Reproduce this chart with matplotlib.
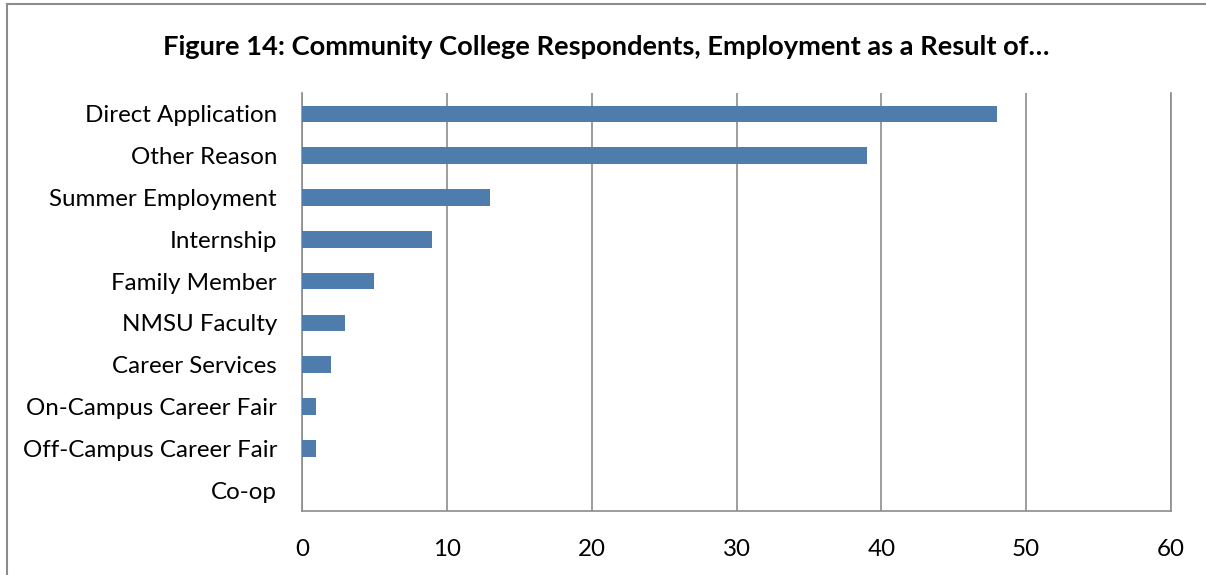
import numpy as np
import matplotlib.pyplot as plt
from matplotlib.lines import Line2D

# Data
categories = [
    "Direct Application", "Other Reason", "Summer Employment", "Internship",
    "Family Member", "NMSU Faculty", "Career Services",
    "On-Campus Career Fair", "Off-Campus Career Fair", "Co-op",
]
counts = [48, 39, 13, 9, 5, 3, 2, 1, 1, 0]
x_ticks = [0, 10, 20, 30, 40, 50, 60]

TITLE = "Figure 14: Community College Respondents, Employment as a Result of\u2026"
BAR_COLOR = "#4E7CAD"
GRID_COLOR = "#8C8C8C"

plt.rcParams['font.family'] = ['Lato', 'DejaVu Sans']

W, H = 1206, 575
fig = plt.figure(figsize=(W / 100, H / 100), dpi=100)

# plot area in pixel coords
left, right, top, bottom = 302, 1171, 93, 511
ax = fig.add_axes([left / W, 1 - bottom / H, (right - left) / W, (bottom - top) / H])

y = np.arange(len(categories))
ax.barh(y, counts, height=0.4, color=BAR_COLOR, zorder=3)
ax.set_ylim(len(categories) - 0.5, -0.5)
ax.set_xlim(0, 60)
ax.set_xticks(x_ticks)
ax.set_yticks(y)
ax.set_yticklabels(categories, fontsize=17.4)
ax.tick_params(axis='x', labelsize=17.4, length=0, pad=20)
ax.tick_params(axis='y', length=0, pad=18)
ax.xaxis.grid(True, color=GRID_COLOR, linewidth=1.2, zorder=0)
ax.spines["top"].set_visible(False)
for side in ("left", "bottom", "right"):
    ax.spines[side].set_color(GRID_COLOR)
    ax.spines[side].set_linewidth(1.2)

fig.text(606 / W, 1 - 47 / H, TITLE, ha='center', va='center',
         fontsize=19.6, fontweight='bold')

# chart frame (left and top edges visible)
fig.add_artist(Line2D([7 / W, 7 / W], [0, 1 - 4 / H], transform=fig.transFigure,
                      color="#8C8C8C", linewidth=1.5))
fig.add_artist(Line2D([7 / W, 1], [1 - 4 / H, 1 - 4 / H], transform=fig.transFigure,
                      color="#8C8C8C", linewidth=1.5))

fig.savefig("out.png", dpi=100)
